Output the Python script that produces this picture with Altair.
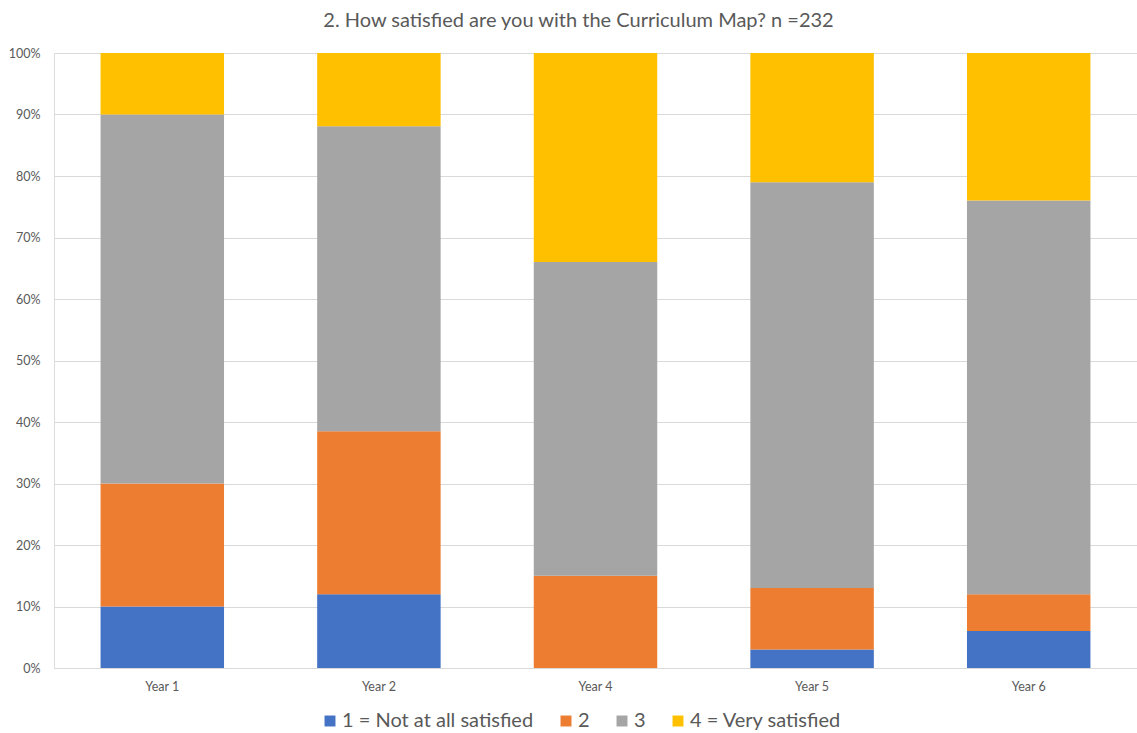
import altair as alt
import pandas as pd

years = ["Year 1", "Year 2", "Year 4", "Year 5", "Year 6"]
levels = ["1 = Not at all satisfied", "2", "3", "4 = Very satisfied"]
colors = ["#4472C4", "#ED7D31", "#A5A5A5", "#FFC000"]

# percentage of respondents per year, one list per satisfaction level
not_at_all = [10.0, 12.0, 0.0, 3.0, 6.0]
level_2 = [20.0, 26.5, 15.0, 10.0, 6.0]
level_3 = [60.0, 49.6, 51.0, 66.0, 64.0]
very = [10.0, 11.9, 34.0, 21.0, 24.0]

series = [not_at_all, level_2, level_3, very]
rows = []
for li, (lvl, vals) in enumerate(zip(levels, series)):
    for y, v in zip(years, vals):
        rows.append({"year": y, "level": lvl, "order": li, "share": v / 100})
df = pd.DataFrame(rows)

FONT = "Lato"
GREY = "#595959"

chart = (
    alt.Chart(df)
    .mark_bar()
    .encode(
        x=alt.X(
            "year:N",
            sort=years,
            title=None,
            scale=alt.Scale(paddingInner=0.43, paddingOuter=0.215),
            axis=alt.Axis(
                labelAngle=0,
                labelFont=FONT,
                labelFontSize=12.5,
                labelColor=GREY,
                labelPadding=12,
                domain=False,
                ticks=False,
                grid=False,
            ),
        ),
        y=alt.Y(
            "share:Q",
            stack="zero",
            title=None,
            scale=alt.Scale(domain=[0, 1], nice=False),
            axis=alt.Axis(
                format=".0%",
                values=[i / 10 for i in range(11)],
                labelFont=FONT,
                labelFontSize=12.5,
                labelColor=GREY,
                labelPadding=14,
                domain=False,
                ticks=False,
                gridColor="#D9D9D9",
                gridWidth=1,
            ),
        ),
        color=alt.Color(
            "level:N",
            sort=levels,
            scale=alt.Scale(domain=levels, range=colors),
            legend=alt.Legend(
                title=None,
                orient="none",
                direction="horizontal",
                legendX=266,
                legendY=658,
                symbolType="square",
                symbolSize=120,
                symbolStrokeWidth=0,
                labelFont=FONT,
                labelFontSize=20,
                labelColor=GREY,
                labelLimit=0,
                labelOffset=2,
                columnPadding=22,
            ),
        ),
        order=alt.Order("order:Q", sort="ascending"),
    )
    .properties(
        width=1083,
        height=615,
        title=alt.TitleParams(
            "2. How satisfied are you with the Curriculum Map? n =232",
            font=FONT,
            fontSize=20,
            fontWeight="normal",
            color=GREY,
            anchor="middle",
            dx=-17,
            offset=16,
        ),
        autosize=alt.AutoSizeParams(type="none"),
        padding={"left": 54, "top": 53, "right": 0, "bottom": 65},
    )
    .configure_view(stroke=None)
    .configure(background="white")
)

chart.save("out.html", embed_options={"renderer": "svg", "actions": False})
